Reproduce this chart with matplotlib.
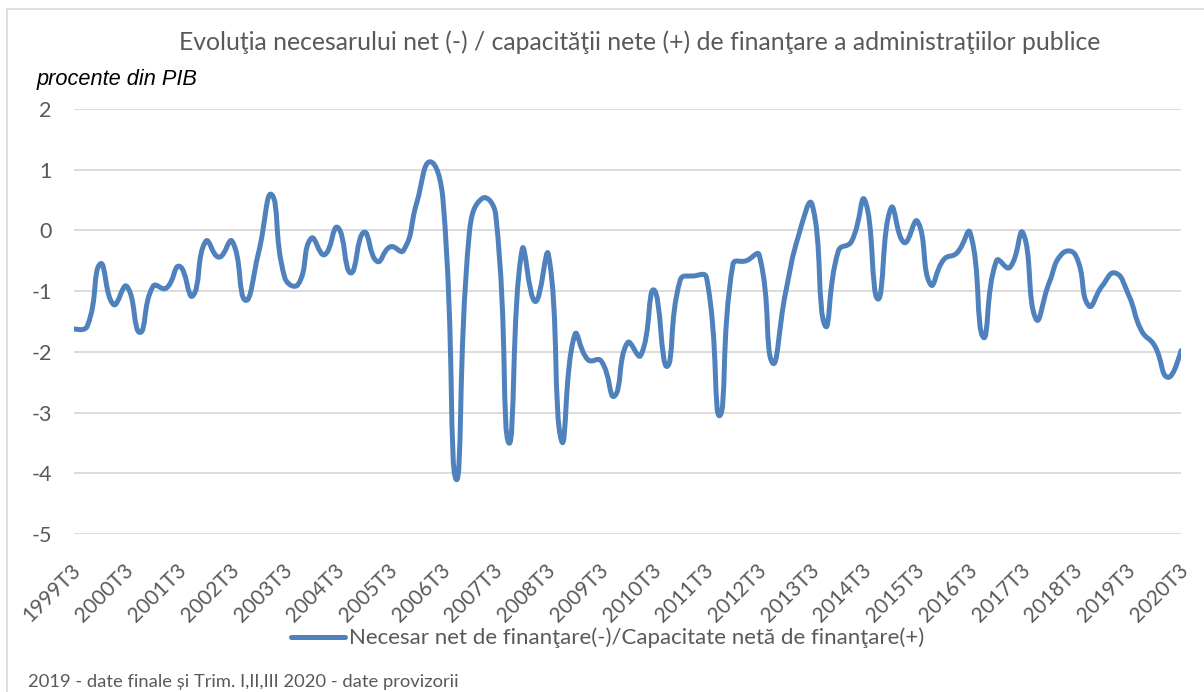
import numpy as np
import matplotlib
matplotlib.use("Agg")
import matplotlib.pyplot as plt
from matplotlib.path import Path
from matplotlib.patches import PathPatch, Rectangle
from matplotlib.lines import Line2D
import matplotlib.transforms as mtransforms

plt.rcParams["axes.unicode_minus"] = False

# ---------------- data ----------------
start_year = 1999
end_year = 2020
quarters = []
for yr in range(start_year, end_year + 1):
    for q in (1, 2, 3, 4):
        if (yr == start_year and q < 3) or (yr == end_year and q > 3):
            continue
        quarters.append(f"{yr}T{q}")

tick_labels = [f"{yr}T3" for yr in range(start_year, end_year + 1)]

values = [
    -1.62, -1.58, -0.55, -1.22, -0.92, -1.68, -0.92, -0.95, -0.59, -1.08,
    -0.18, -0.44, -0.18, -1.15, -0.37, 0.59, -0.78, -0.89, -0.13, -0.40,
    0.05, -0.70, -0.03, -0.51, -0.27, -0.33, 0.45, 1.13, 0.50, -4.10,
    -0.04, 0.53, 0.26, -3.50, -0.32, -1.17, -0.40, -3.47, -1.72, -2.13,
    -2.15, -2.73, -1.85, -2.06, -0.98, -2.24, -0.82, -0.75, -0.78, -3.05,
    -0.56, -0.50, -0.41, -2.18, -1.02, -0.07, 0.43, -1.57, -0.34, -0.18,
    0.50, -1.13, 0.37, -0.20, 0.15, -0.89, -0.48, -0.37, -0.04, -1.76,
    -0.50, -0.61, -0.04, -1.46, -0.86, -0.38, -0.41, -1.24, -0.92, -0.70,
    -1.05, -1.65, -1.90, -2.42, -1.98,
]

title = "Evoluţia necesarului net (-) / capacităţii nete (+) de finanţare a administraţiilor publice"
unit_label = "procente din PIB"
series_name = "Necesar net de finanţare(-)/Capacitate netă de finanţare(+)"
footnote = "2019 - date finale și Trim. I,II,III 2020 - date provizorii"

# ---------------- style ----------------
LINE_COLOR = "#4F81BD"
TEXT_COLOR = "#595959"
GRID_COLOR = "#D9D9D9"
SANS = ["Lato", "DejaVu Sans"]
LW = 3.6

W, H = 1204, 692
fig = plt.figure(figsize=(W / 100, H / 100), dpi=100)

def fx(px):
    return px / W

def fy(py):
    return 1 - py / H

# chart-area border
fig.patches.append(Rectangle((fx(7), fy(H + 10)), 1.0, fy(9) - fy(H + 10),
                             transform=fig.transFigure, fill=False,
                             edgecolor=GRID_COLOR, linewidth=1.2))

ax = fig.add_axes([fx(74), fy(534), fx(1181) - fx(74), fy(109) - fy(534)])
n = len(values)
ax.set_xlim(0, n - 1)
ax.set_ylim(-5, 2)

# smooth (Excel-like) line: cubic Bezier segments; handle lengths are split
# in proportion to the neighbouring segment lengths (display space)
x = np.arange(n, dtype=float)
y = np.array(values, dtype=float)
P = ax.transData.transform(np.column_stack([x, y]))
seglen = np.hypot(*(np.diff(P, axis=0).T))
K = 0.5
pverts = [P[0]]
codes = [Path.MOVETO]

def handles(i):
    """returns (back_handle, fwd_handle) offsets at point i"""
    if i == 0 or i == n - 1:
        return np.zeros(2), np.zeros(2)
    d = P[i + 1] - P[i - 1]
    la, lb = seglen[i - 1], seglen[i]
    s = la + lb
    return -d * K * la / s, d * K * lb / s

H_all = [handles(i) for i in range(n)]
for i in range(n - 1):
    c1 = P[i] + H_all[i][1]
    c2 = P[i + 1] + H_all[i + 1][0]
    pverts += [c1, c2, P[i + 1]]
    codes += [Path.CURVE4] * 3
dverts = ax.transData.inverted().transform(np.array(pverts))
path = Path(dverts, codes)
ax.add_patch(PathPatch(path, fill=False, edgecolor=LINE_COLOR, linewidth=LW,
                       capstyle="round", joinstyle="round", zorder=3))

ax.set_yticks(range(-5, 3))
ax.yaxis.grid(True, color=GRID_COLOR, linewidth=1.3)
ax.set_axisbelow(True)
for s in ax.spines.values():
    s.set_visible(False)

ax.set_xticks(np.arange(0, n, 4))
ax.set_xticklabels(tick_labels, rotation=45, ha="right", va="center",
                   rotation_mode="anchor", family=SANS, fontsize=15,
                   color=TEXT_COLOR)
ax.tick_params(axis="x", length=0, pad=24)
ax.tick_params(axis="y", length=0, pad=16, labelsize=15.5, labelcolor=TEXT_COLOR)
for lab in ax.get_yticklabels():
    lab.set_family(SANS)
shift = mtransforms.ScaledTranslation(4 / 100, 0, fig.dpi_scale_trans)
for lab in ax.get_xticklabels():
    lab.set_transform(lab.get_transform() + shift)

# texts
renderer = fig.canvas.get_renderer()

def fit(t, target_px):
    w = t.get_window_extent(renderer).width
    t.set_fontsize(t.get_fontsize() * target_px / w)

t_title = fig.text(fx(179), fy(50), title, ha="left", va="baseline",
                   family=SANS, color=TEXT_COLOR, fontsize=16)
fit(t_title, 1105 - 179)

t_unit = fig.text(fx(37), fy(85), unit_label, ha="left", va="baseline",
                  family=["Liberation Sans", "DejaVu Sans"], style="italic",
                  color="black", fontsize=13)
fit(t_unit, 197 - 37)

t_foot = fig.text(fx(28), fy(687), footnote, ha="left", va="baseline",
                  family=SANS, color=TEXT_COLOR, fontsize=13)
fit(t_foot, 457 - 28)

# legend (handle + label)
fig.add_artist(Line2D([fx(291), fx(345)], [fy(637), fy(637)],
                      transform=fig.transFigure, color=LINE_COLOR,
                      linewidth=LW, solid_capstyle="round"))
t_leg = fig.text(fx(349), fy(644), series_name, ha="left", va="baseline",
                 family=SANS, color=TEXT_COLOR, fontsize=16)
fit(t_leg, 925 - 349)

fig.savefig("out.png", dpi=100)
